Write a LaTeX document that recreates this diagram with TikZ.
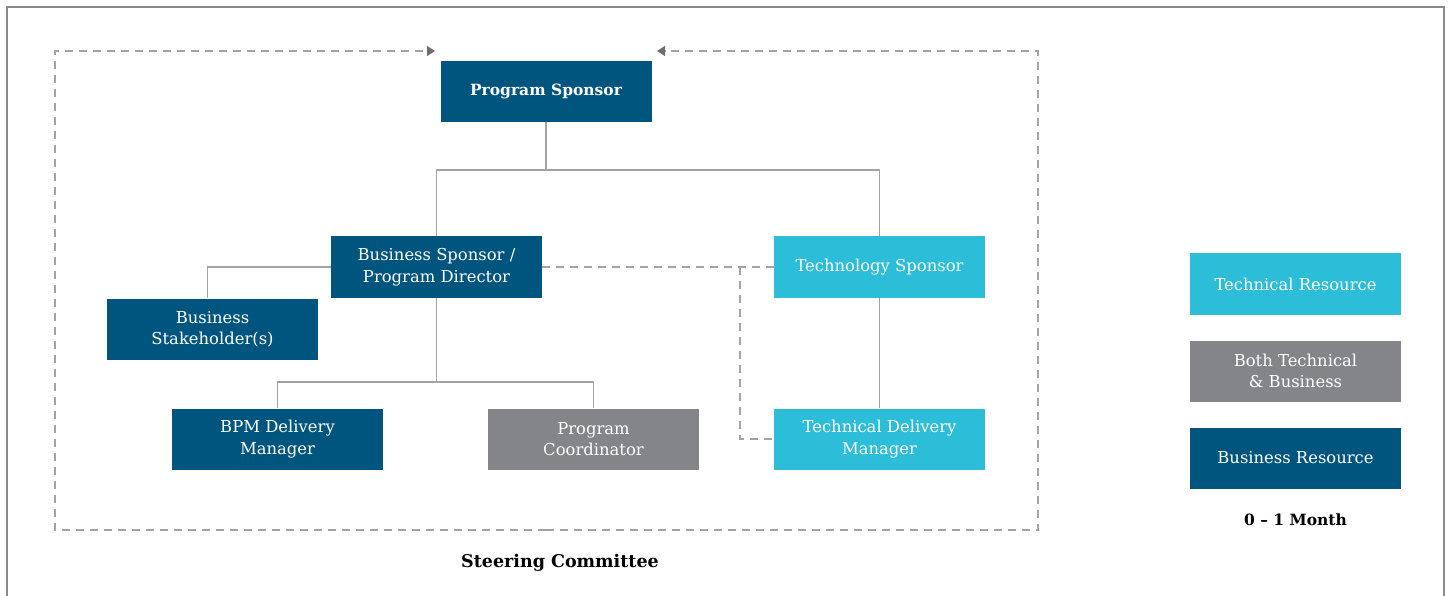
\documentclass[tikz,border=0pt]{standalone}
\usepackage{fontspec}
\setmainfont{DejaVu Serif}
\usetikzlibrary{arrows.meta}
\definecolor{bizblue}{HTML}{00557F}
\definecolor{techblue}{HTML}{2CBDD9}
\definecolor{bothgray}{HTML}{848589}
\definecolor{linegray}{HTML}{A3A3A3}
\definecolor{framegray}{HTML}{8A8A8E}
\definecolor{tipgray}{HTML}{6E6E6E}
\tikzset{
  role/.style={minimum width=211pt, minimum height=61pt, inner sep=0pt,
    align=center, text=white, font=\fontsize{16.4}{21.5}\selectfont},
  biz/.style={role, fill=bizblue},
  tech/.style={role, fill=techblue},
  both/.style={role, fill=bothgray},
  link/.style={draw=linegray, line width=1.4pt},
  dashlink/.style={draw=linegray, line width=1.4pt, dash pattern=on 8pt off 6pt},
  caption/.style={font=\fontsize{15.5}{18}\selectfont\bfseries, text=black}
}
\begin{document}
\begin{tikzpicture}[x=1pt,y=-1pt]
\useasboundingbox (0,0) rectangle (1449,596);
% outer frame
\draw[framegray, line width=2.6pt] (7,596) -- (7,7) -- (1444,7) -- (1444,596);

% roles
\node[biz, font=\fontsize{15.5}{21}\selectfont\bfseries] (ps) at (546,91.5) {Program Sponsor};
\node[biz] (bspd) at (436.5,267) {Business Sponsor /\\Program Director};
\node[tech] (ts) at (879.5,267) {Technology Sponsor};
\node[biz] (bs) at (212.5,329) {Business\\Stakeholder(s)};
\node[biz] (bpm) at (277.5,439) {BPM Delivery\\Manager};
\node[both] (pc) at (593.5,439) {Program\\Coordinator};
\node[tech] (tdm) at (879.5,439) {Technical Delivery\\Manager};

% legend
\node[tech] (lt) at (1295.5,284) {Technical Resource};
\node[both] (lb) at (1295.5,371) {Both Technical\\\& Business};
\node[biz] (lz) at (1295.5,458) {Business Resource};
\node[caption] (month) at (1295.5,520) {0 -- 1 Month};
\node[caption, font=\fontsize{17.5}{20}\selectfont\bfseries] (sc) at (560,563) {Steering Committee};

% junctions
\coordinate (j1) at (546,170);
\coordinate (j2) at (436.5,382);
\coordinate (j3) at (740,267);

% reporting lines
\draw[link] (ps.south) -- (j1);
\draw[link] (bspd.north) |- (j1);
\draw[link] (ts.north) |- (j1);
\draw[link] (bspd.west) -| ([xshift=-5pt]bs.north);
\draw[link] (bspd.south) -- (j2);
\draw[link] (bpm.north) |- (j2);
\draw[link] (pc.north) |- (j2);
\draw[link] (ts.south) -- (tdm.north);

% dotted-line relationships
\draw[dashlink] (bspd.east) -- (ts.west);
\draw[dashlink] (j3) |- (tdm.west);

% steering committee boundary
\coordinate (sbot) at (546,530);
\coordinate (stl) at (55,51);
\coordinate (str) at (1038,51);
\coordinate (tipl) at (435,51);
\coordinate (tipr) at (657,51);
\draw[dashlink, -{Triangle[length=8pt,width=10pt,color=tipgray]}]
  (sbot) -| (stl) -- (tipl);
\draw[dashlink, -{Triangle[length=8pt,width=10pt,color=tipgray]}]
  (sbot) -| (str) -- (tipr);
\end{tikzpicture}
\end{document}
